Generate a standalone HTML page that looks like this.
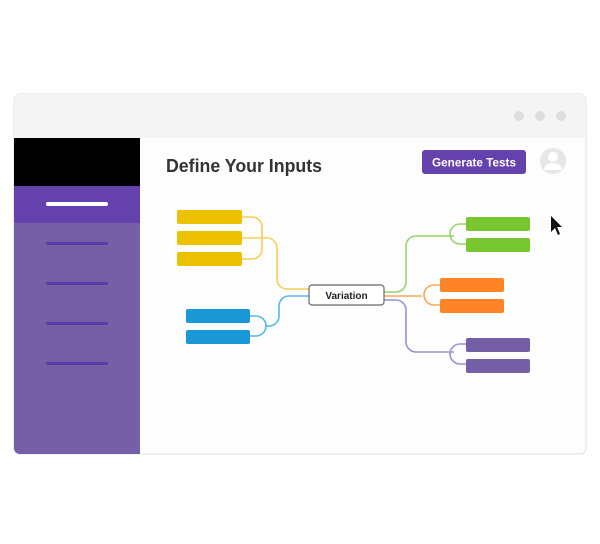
<!DOCTYPE html>
<html><head><style>
body{margin:0;background:#fff;width:600px;height:539px;overflow:hidden;font-family:"Liberation Sans",sans-serif}
</style></head><body>
<svg width="600" height="539" viewBox="0 0 600 539" xmlns="http://www.w3.org/2000/svg">
<rect x="14" y="94" width="572" height="360" rx="6" fill="#fdfdfd" stroke="#ddd"/>
<path d="M20 94 H580 a6 6 0 0 1 6 6 V138 H14 V100 a6 6 0 0 1 6 -6z" fill="#f4f4f4"/>
<circle cx="519" cy="116" r="5" fill="#ddd"/><circle cx="540" cy="116" r="5" fill="#ddd"/><circle cx="561" cy="116" r="5" fill="#ddd"/>
<rect x="14" y="138" width="126" height="48" fill="#000"/>
<rect x="14" y="186" width="126" height="37" fill="#6441ad"/>
<path d="M14 223 H140 V454 H20 a6 6 0 0 1 -6 -6z" fill="#7560a8"/>
<rect x="46" y="202" width="62" height="4" rx="2" fill="#fff"/>
<g fill="#5a3aa8"><rect x="46" y="242" width="62" height="3" rx="1.5"/><rect x="46" y="282" width="62" height="3" rx="1.5"/><rect x="46" y="322" width="62" height="3" rx="1.5"/><rect x="46" y="362" width="62" height="3" rx="1.5"/></g>
<text x="166" y="172" font-size="18" font-weight="bold" fill="#333" textLength="156" lengthAdjust="spacingAndGlyphs">Define Your Inputs</text>
<rect x="422" y="150" width="104" height="24" rx="3" fill="#6441ad"/>
<text x="474" y="166.5" font-size="12" font-weight="bold" fill="#fff" text-anchor="middle" textLength="84" lengthAdjust="spacingAndGlyphs">Generate Tests</text>
<circle cx="553" cy="161" r="13" fill="#e6e6e6"/><circle cx="553" cy="157" r="5" fill="#fff"/><path d="M544 170 a9 7 0 0 1 18 0z" fill="#fff"/>
<path d="M551 216 v16 l4 -4 l3 7 l2 -1 l-3 -7 h5z" fill="#111"/>
<g fill="none" stroke-width="1.6">
<path d="M242 217 h10 a10 10 0 0 1 10 10 v22 a10 10 0 0 1 -10 10 h-10 M242 238 h25 a10 10 0 0 1 10 10 v31 a10 10 0 0 0 10 10 h22" stroke="#f5cf5a"/>
<path d="M250 316 h6 a10 10 0 0 1 0 20 h-6 M266 326 h3 a10 10 0 0 0 10 -10 v-10 a10 10 0 0 1 10 -10 h20" stroke="#5ab7e4"/>
<path d="M384 292 h12 a10 10 0 0 0 10 -10 v-36 a10 10 0 0 1 10 -10 h38 M466 224 h-6 a10 10 0 0 0 0 20 h6" stroke="#95d46a"/>
<path d="M384 296 h38 M440 285 h-6 a10 10 0 0 0 0 20 h6" stroke="#f8a85a"/>
<path d="M384 300 h12 a10 10 0 0 1 10 10 v32 a10 10 0 0 0 10 10 h38 M466 344 h-6 a10 10 0 0 0 0 20 h6" stroke="#a08fd0"/>
</g>
<g fill="#ecc200"><rect x="177" y="210" width="65" height="14" rx="2"/><rect x="177" y="231" width="65" height="14" rx="2"/><rect x="177" y="252" width="65" height="14" rx="2"/></g>
<g fill="#1a98d5"><rect x="186" y="309" width="64" height="14" rx="2"/><rect x="186" y="330" width="64" height="14" rx="2"/></g>
<g fill="#79c730"><rect x="466" y="217" width="64" height="14" rx="2"/><rect x="466" y="238" width="64" height="14" rx="2"/></g>
<g fill="#ff8425"><rect x="440" y="278" width="64" height="14" rx="2"/><rect x="440" y="299" width="64" height="14" rx="2"/></g>
<g fill="#7560a8"><rect x="466" y="338" width="64" height="14" rx="2"/><rect x="466" y="359" width="64" height="14" rx="2"/></g>
<rect x="309" y="285" width="75" height="20" rx="3" fill="#fff" stroke="#666" stroke-width="1.2"/>
<text x="346.5" y="299" font-size="10" font-weight="bold" fill="#222" text-anchor="middle">Variation</text>
</svg>
</body></html>
